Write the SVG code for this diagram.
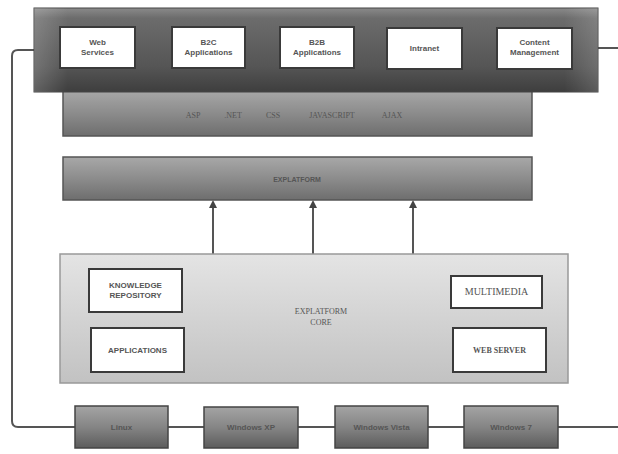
<svg xmlns="http://www.w3.org/2000/svg" width="618" height="454" viewBox="0 0 618 454">
<defs>
<linearGradient id="gTop" x1="0" y1="0" x2="0" y2="1">
<stop offset="0" stop-color="#8a8a8a"/>
<stop offset="0.12" stop-color="#6c6c6c"/>
<stop offset="0.7" stop-color="#555555"/>
<stop offset="1" stop-color="#3e3e3e"/>
</linearGradient>
<linearGradient id="gTopH" x1="0" y1="0" x2="1" y2="0">
<stop offset="0" stop-color="#ffffff" stop-opacity="0.18"/>
<stop offset="0.06" stop-color="#ffffff" stop-opacity="0"/>
<stop offset="0.94" stop-color="#ffffff" stop-opacity="0"/>
<stop offset="1" stop-color="#ffffff" stop-opacity="0.15"/>
</linearGradient>
<linearGradient id="gBar" x1="0" y1="0" x2="0" y2="1">
<stop offset="0" stop-color="#a8a8a8"/>
<stop offset="0.5" stop-color="#8c8c8c"/>
<stop offset="1" stop-color="#6e6e6e"/>
</linearGradient>
<linearGradient id="gCore" x1="0" y1="0" x2="0" y2="1">
<stop offset="0" stop-color="#e4e4e4"/>
<stop offset="1" stop-color="#c2c2c2"/>
</linearGradient>
<linearGradient id="gOs" x1="0" y1="0" x2="0" y2="1">
<stop offset="0" stop-color="#a4a4a4"/>
<stop offset="0.5" stop-color="#858585"/>
<stop offset="1" stop-color="#5c5c5c"/>
</linearGradient>
<marker id="arr" markerWidth="8" markerHeight="8" refX="6" refY="4" orient="auto" markerUnits="userSpaceOnUse" viewBox="0 0 8 8">
<path d="M0,0 L8,4 L0,8 Z" fill="#444"/>
</marker>
</defs>
<style>
.wb{fill:#ffffff;stroke:#3a3a3a;stroke-width:2}
.t{font-family:"Liberation Sans",Arial,sans-serif;font-weight:bold;fill:#555;text-anchor:middle}
.ts{font-family:"Liberation Serif","Times New Roman",serif;fill:#555;text-anchor:middle}
.os{fill:url(#gOs);stroke:#444;stroke-width:1.5}
.ln{stroke:#555;stroke-width:2;fill:none}
</style>
<rect width="618" height="454" fill="#ffffff"/>

<g id="connectors">
<path class="ln" d="M34,50 H18 Q12,50 12,56 V421 Q12,427 18,427 H75"/>
<path class="ln" d="M598,48 H618"/>
<path class="ln" d="M168,427 H204"/>
<path class="ln" d="M298,427 H335"/>
<path class="ln" d="M428,427 H464"/>
<path class="ln" d="M558,427 H618"/>
<line class="ln" x1="213" y1="254" x2="213" y2="202" marker-end="url(#arr)"/>
<line class="ln" x1="313" y1="254" x2="313" y2="202" marker-end="url(#arr)"/>
<line class="ln" x1="413" y1="254" x2="413" y2="202" marker-end="url(#arr)"/>
</g>

<g id="tech-bar">
<rect x="63" y="90" width="469" height="46" fill="url(#gBar)" stroke="#555" stroke-width="1.5"/>
<text class="ts" x="193" y="118" font-size="8" fill="#444">ASP</text>
<text class="ts" x="233" y="118" font-size="8" fill="#444">.NET</text>
<text class="ts" x="273" y="118" font-size="8" fill="#444">CSS</text>
<text class="ts" x="332" y="118" font-size="8" fill="#444">JAVASCRIPT</text>
<text class="ts" x="392" y="118" font-size="8" fill="#444">AJAX</text>
</g>

<g id="top-bar">
<rect x="34" y="8" width="564" height="84" fill="url(#gTop)" stroke="#444" stroke-width="1"/>
<rect x="34" y="8" width="564" height="84" fill="url(#gTopH)"/>
</g>
<g id="web-services">
<rect class="wb" x="60" y="27" width="75" height="41"/>
<text class="t" x="97.5" y="45" font-size="8">Web</text>
<text class="t" x="97.5" y="55" font-size="8">Services</text>
</g>
<g id="b2c">
<rect class="wb" x="172" y="27" width="73" height="41"/>
<text class="t" x="208.5" y="45" font-size="8">B2C</text>
<text class="t" x="208.5" y="55" font-size="8">Applications</text>
</g>
<g id="b2b">
<rect class="wb" x="280" y="27" width="74" height="41"/>
<text class="t" x="317" y="45" font-size="8">B2B</text>
<text class="t" x="317" y="55" font-size="8">Applications</text>
</g>
<g id="intranet">
<rect class="wb" x="387" y="28" width="75" height="41"/>
<text class="t" x="424.5" y="51" font-size="8">Intranet</text>
</g>
<g id="content-management">
<rect class="wb" x="497" y="28" width="75" height="41"/>
<text class="t" x="534.5" y="45" font-size="8">Content</text>
<text class="t" x="534.5" y="55" font-size="8">Management</text>
</g>

<g id="explatform">
<rect x="63" y="157" width="469" height="43" fill="url(#gBar)" stroke="#555" stroke-width="1.5"/>
<text class="t" x="297" y="182" font-size="7" fill="#444">EXPLATFORM</text>
</g>

<g id="core">
<rect x="60" y="254" width="508" height="129" fill="url(#gCore)" stroke="#999" stroke-width="1.5"/>
<text class="ts" x="321" y="314" font-size="8" fill="#777">EXPLATFORM</text>
<text class="ts" x="321" y="325" font-size="8" fill="#777">CORE</text>
</g>
<g id="knowledge-repository">
<rect class="wb" x="89" y="269" width="93" height="43"/>
<text class="t" x="135.5" y="288" font-size="8">KNOWLEDGE</text>
<text class="t" x="135.5" y="298" font-size="8">REPOSITORY</text>
</g>
<g id="applications">
<rect class="wb" x="91" y="328" width="93" height="44"/>
<text class="t" x="137.5" y="353" font-size="8">APPLICATIONS</text>
</g>
<g id="multimedia">
<rect class="wb" x="451" y="276" width="91" height="32"/>
<text class="ts" x="496.5" y="295" font-size="10">MULTIMEDIA</text>
</g>
<g id="web-server">
<rect class="wb" x="453" y="328" width="93" height="44"/>
<text class="ts" x="499.5" y="353" font-size="8" font-weight="bold">WEB SERVER</text>
</g>

<g id="linux">
<rect class="os" x="75" y="406" width="93" height="42"/>
<text class="t" x="121.5" y="430" font-size="8" fill="#444">Linux</text>
</g>
<g id="windows-xp">
<rect class="os" x="204" y="407" width="94" height="41"/>
<text class="t" x="251" y="430" font-size="8" fill="#444">Windows XP</text>
</g>
<g id="windows-vista">
<rect class="os" x="335" y="406" width="93" height="42"/>
<text class="t" x="381.5" y="430" font-size="8" fill="#444">Windows Vista</text>
</g>
<g id="windows-7">
<rect class="os" x="464" y="406" width="94" height="42"/>
<text class="t" x="511" y="430" font-size="8" fill="#444">Windows 7</text>
</g>
</svg>
